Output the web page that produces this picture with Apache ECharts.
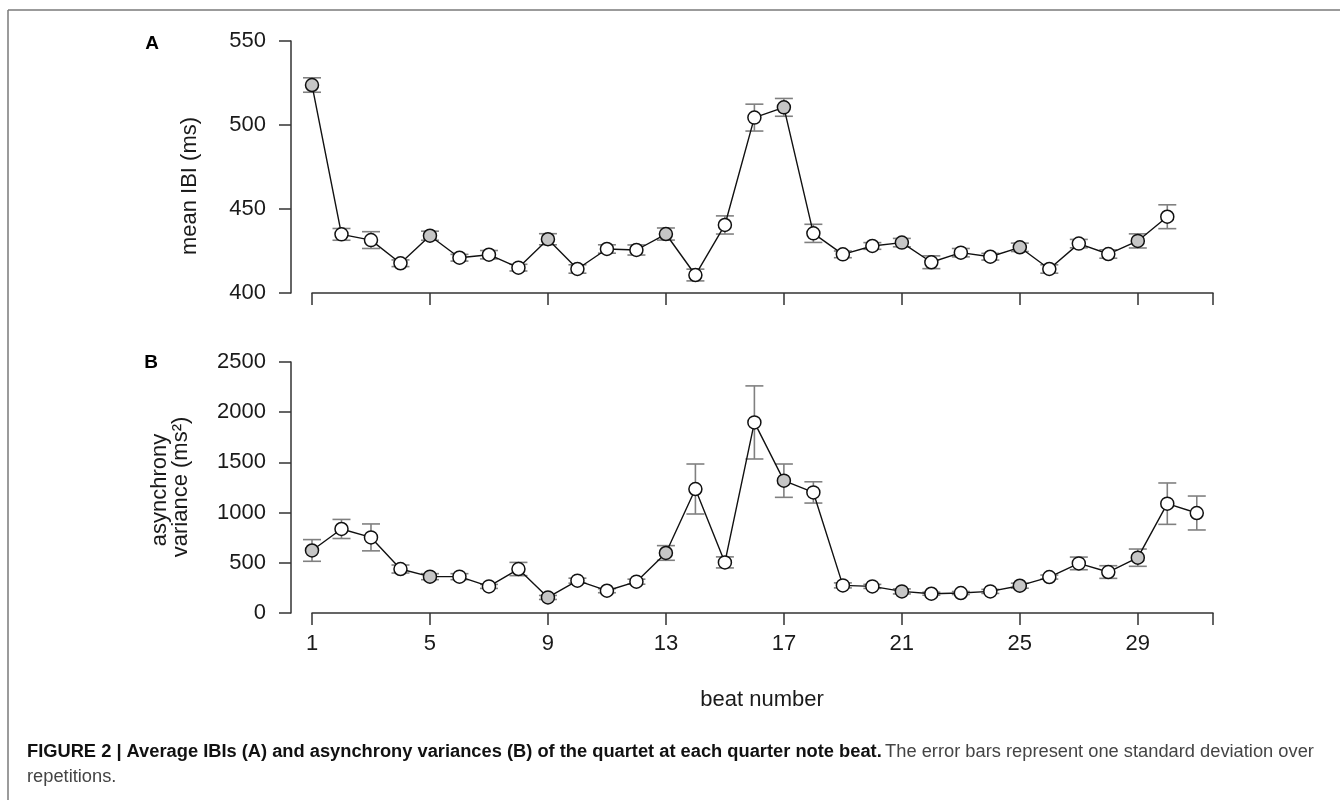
<!DOCTYPE html>
<html>
<head>
<meta charset="utf-8">
<script src="https://cdn.jsdelivr.net/npm/echarts@6/dist/echarts.min.js"></script>
<style>
html,body{margin:0;padding:0;background:#fff;}
#chart{width:1340px;height:800px;}
</style>
</head>
<body>
<div id="chart"></div>
<script>
// ---- data ----
const beats = [1,2,3,4,5,6,7,8,9,10,11,12,13,14,15,16,17,18,19,20,21,22,23,24,25,26,27,28,29,30,31];
const downbeats = [1,5,9,13,17,21,25,29];
const ibiMean = [523.8,434.9,431.5,417.7,434.1,421.0,422.8,415.1,432.0,414.3,426.2,425.6,435.1,410.7,440.5,504.4,510.5,435.5,423.0,428.0,430.0,418.3,424.0,421.6,427.2,414.3,429.4,423.2,431.0,445.4];
const ibiSD   = [4.3,3.5,5.0,2.0,2.7,2.0,2.5,2.0,3.3,2.5,2.5,3.0,3.6,3.5,5.4,8.0,5.3,5.4,2.0,2.0,2.5,3.8,2.5,2.0,2.5,2.5,2.5,2.5,4.2,7.1];
const asyVar  = [623,837,753,438,362,362,265,438,155,322,222,312,598,1235,504,1898,1318,1201,275,265,215,192,199,215,272,358,494,408,551,1089,996];
const asySD   = [108,95,134,40,30,30,20,66,20,25,20,25,73,249,55,364,166,106,25,20,25,15,15,20,25,20,63,63,86,206,169];
const xTicks = [1,5,9,13,17,21,25,29];
const yTicksA = [400,450,500,550];
const yTicksB = [0,500,1000,1500,2000,2500];

const FONT = '"Liberation Sans", Arial, Helvetica, sans-serif';
const AXIS_COLOR = '#333';
const X_END = 31.55;

function lineData(means) {
  return means.map((v, i) => ({
    value: [beats[i], v],
    itemStyle: { color: downbeats.includes(beats[i]) ? '#c6c6c6' : '#ffffff' }
  }));
}
function errData(means, sds) {
  return means.map((v, i) => [beats[i], v - sds[i], v + sds[i]]);
}
function errRender(params, api) {
  const x = api.value(0);
  const lo = api.coord([x, api.value(1)]);
  const hi = api.coord([x, api.value(2)]);
  const hw = 9;
  const st = { stroke: '#808080', lineWidth: 1.6 };
  return {
    type: 'group',
    children: [
      { type: 'line', shape: { x1: lo[0], y1: lo[1], x2: hi[0], y2: hi[1] }, style: st },
      { type: 'line', shape: { x1: lo[0] - hw, y1: lo[1], x2: lo[0] + hw, y2: lo[1] }, style: st },
      { type: 'line', shape: { x1: hi[0] - hw, y1: hi[1], x2: hi[0] + hw, y2: hi[1] }, style: st }
    ]
  };
}

const axisLineStyle = { lineStyle: { color: AXIS_COLOR, width: 1.5 } };
const tickStyle = { length: 12, lineStyle: { color: AXIS_COLOR, width: 1.5 } };
const labelStyle = { color: '#1a1a1a', fontSize: 22, fontFamily: FONT, formatter: v => String(v) };

function xAxisDef(gridIndex, showLabels) {
  return {
    type: 'value', gridIndex, min: 1, max: X_END,
    axisLine: { show: true, onZero: false, ...axisLineStyle },
    axisTick: { show: true, ...tickStyle, customValues: xTicks.concat([X_END]) },
    axisLabel: showLabels
      ? { show: true, ...labelStyle, margin: 20, customValues: xTicks }
      : { show: false },
    splitLine: { show: false }
  };
}
function yAxisDef(gridIndex, ticks) {
  return {
    type: 'value', gridIndex,
    min: ticks[0], max: ticks[ticks.length - 1],
    interval: ticks[1] - ticks[0],
    offset: 21,
    axisLine: { show: true, ...axisLineStyle },
    axisTick: { show: true, ...tickStyle },
    axisLabel: { show: true, ...labelStyle, margin: 25 },
    splitLine: { show: false }
  };
}

const chart = echarts.init(document.getElementById('chart'), null, { renderer: 'canvas' });
chart.setOption({
  backgroundColor: '#ffffff',
  animation: false,
  grid: [
    { left: 312, top: 41, width: 901, height: 252 },
    { left: 312, top: 362, width: 901, height: 251 }
  ],
  xAxis: [xAxisDef(0, false), xAxisDef(1, true)],
  yAxis: [yAxisDef(0, yTicksA), yAxisDef(1, yTicksB)],
  series: [
    { type: 'custom', xAxisIndex: 0, yAxisIndex: 0, renderItem: errRender, data: errData(ibiMean, ibiSD), z: 1 },
    { type: 'line', xAxisIndex: 0, yAxisIndex: 0, data: lineData(ibiMean), z: 2,
      symbol: 'circle', symbolSize: 13, showAllSymbol: true,
      lineStyle: { color: '#111', width: 1.4 },
      itemStyle: { borderColor: '#111', borderWidth: 1.5 } },
    { type: 'custom', xAxisIndex: 1, yAxisIndex: 1, renderItem: errRender, data: errData(asyVar, asySD), z: 1 },
    { type: 'line', xAxisIndex: 1, yAxisIndex: 1, data: lineData(asyVar), z: 2,
      symbol: 'circle', symbolSize: 13, showAllSymbol: true,
      lineStyle: { color: '#111', width: 1.4 },
      itemStyle: { borderColor: '#111', borderWidth: 1.5 } }
  ],
  graphic: [
    { type: 'line', shape: { x1: 8, y1: 10, x2: 1340, y2: 10 }, style: { stroke: '#7a7a7a', lineWidth: 1.5 } },
    { type: 'line', shape: { x1: 8, y1: 10, x2: 8, y2: 800 }, style: { stroke: '#7a7a7a', lineWidth: 1.5 } },
    { type: 'text', x: 152, y: 44, style: { text: 'A', font: 'bold 19px ' + FONT, fill: '#000', align: 'center', verticalAlign: 'middle' } },
    { type: 'text', x: 151, y: 363, style: { text: 'B', font: 'bold 19px ' + FONT, fill: '#000', align: 'center', verticalAlign: 'middle' } },
    { type: 'text', x: 190, y: 186, rotation: Math.PI / 2, style: { text: 'mean IBI (ms)', font: '22px ' + FONT, fill: '#1a1a1a', align: 'center', verticalAlign: 'middle' } },
    { type: 'text', x: 160, y: 490, rotation: Math.PI / 2, style: { text: 'asynchrony', font: '22px ' + FONT, fill: '#1a1a1a', align: 'center', verticalAlign: 'middle' } },
    { type: 'text', x: 181, y: 487, rotation: Math.PI / 2, style: { text: 'variance (ms²)', font: '22px ' + FONT, fill: '#1a1a1a', align: 'center', verticalAlign: 'middle' } },
    { type: 'text', x: 762, y: 700, style: { text: 'beat number', font: '22px ' + FONT, fill: '#1a1a1a', align: 'center', verticalAlign: 'middle' } },
    { type: 'text', x: 27, y: 752, style: {
        text: '{b|FIGURE 2 | Average IBIs (A) and asynchrony variances (B) of the quartet at each quarter note beat.} {n|The error bars represent one standard deviation over}',
        verticalAlign: 'middle',
        rich: {
          b: { font: 'bold 18.3px ' + FONT, fill: '#111', color: '#111' },
          n: { font: '18.3px ' + FONT, fill: '#444', color: '#444' }
        }
      } },
    { type: 'text', x: 27, y: 777, style: { text: 'repetitions.', font: '18.3px ' + FONT, fill: '#444', verticalAlign: 'middle' } }
  ]
});
</script>
</body>
</html>
